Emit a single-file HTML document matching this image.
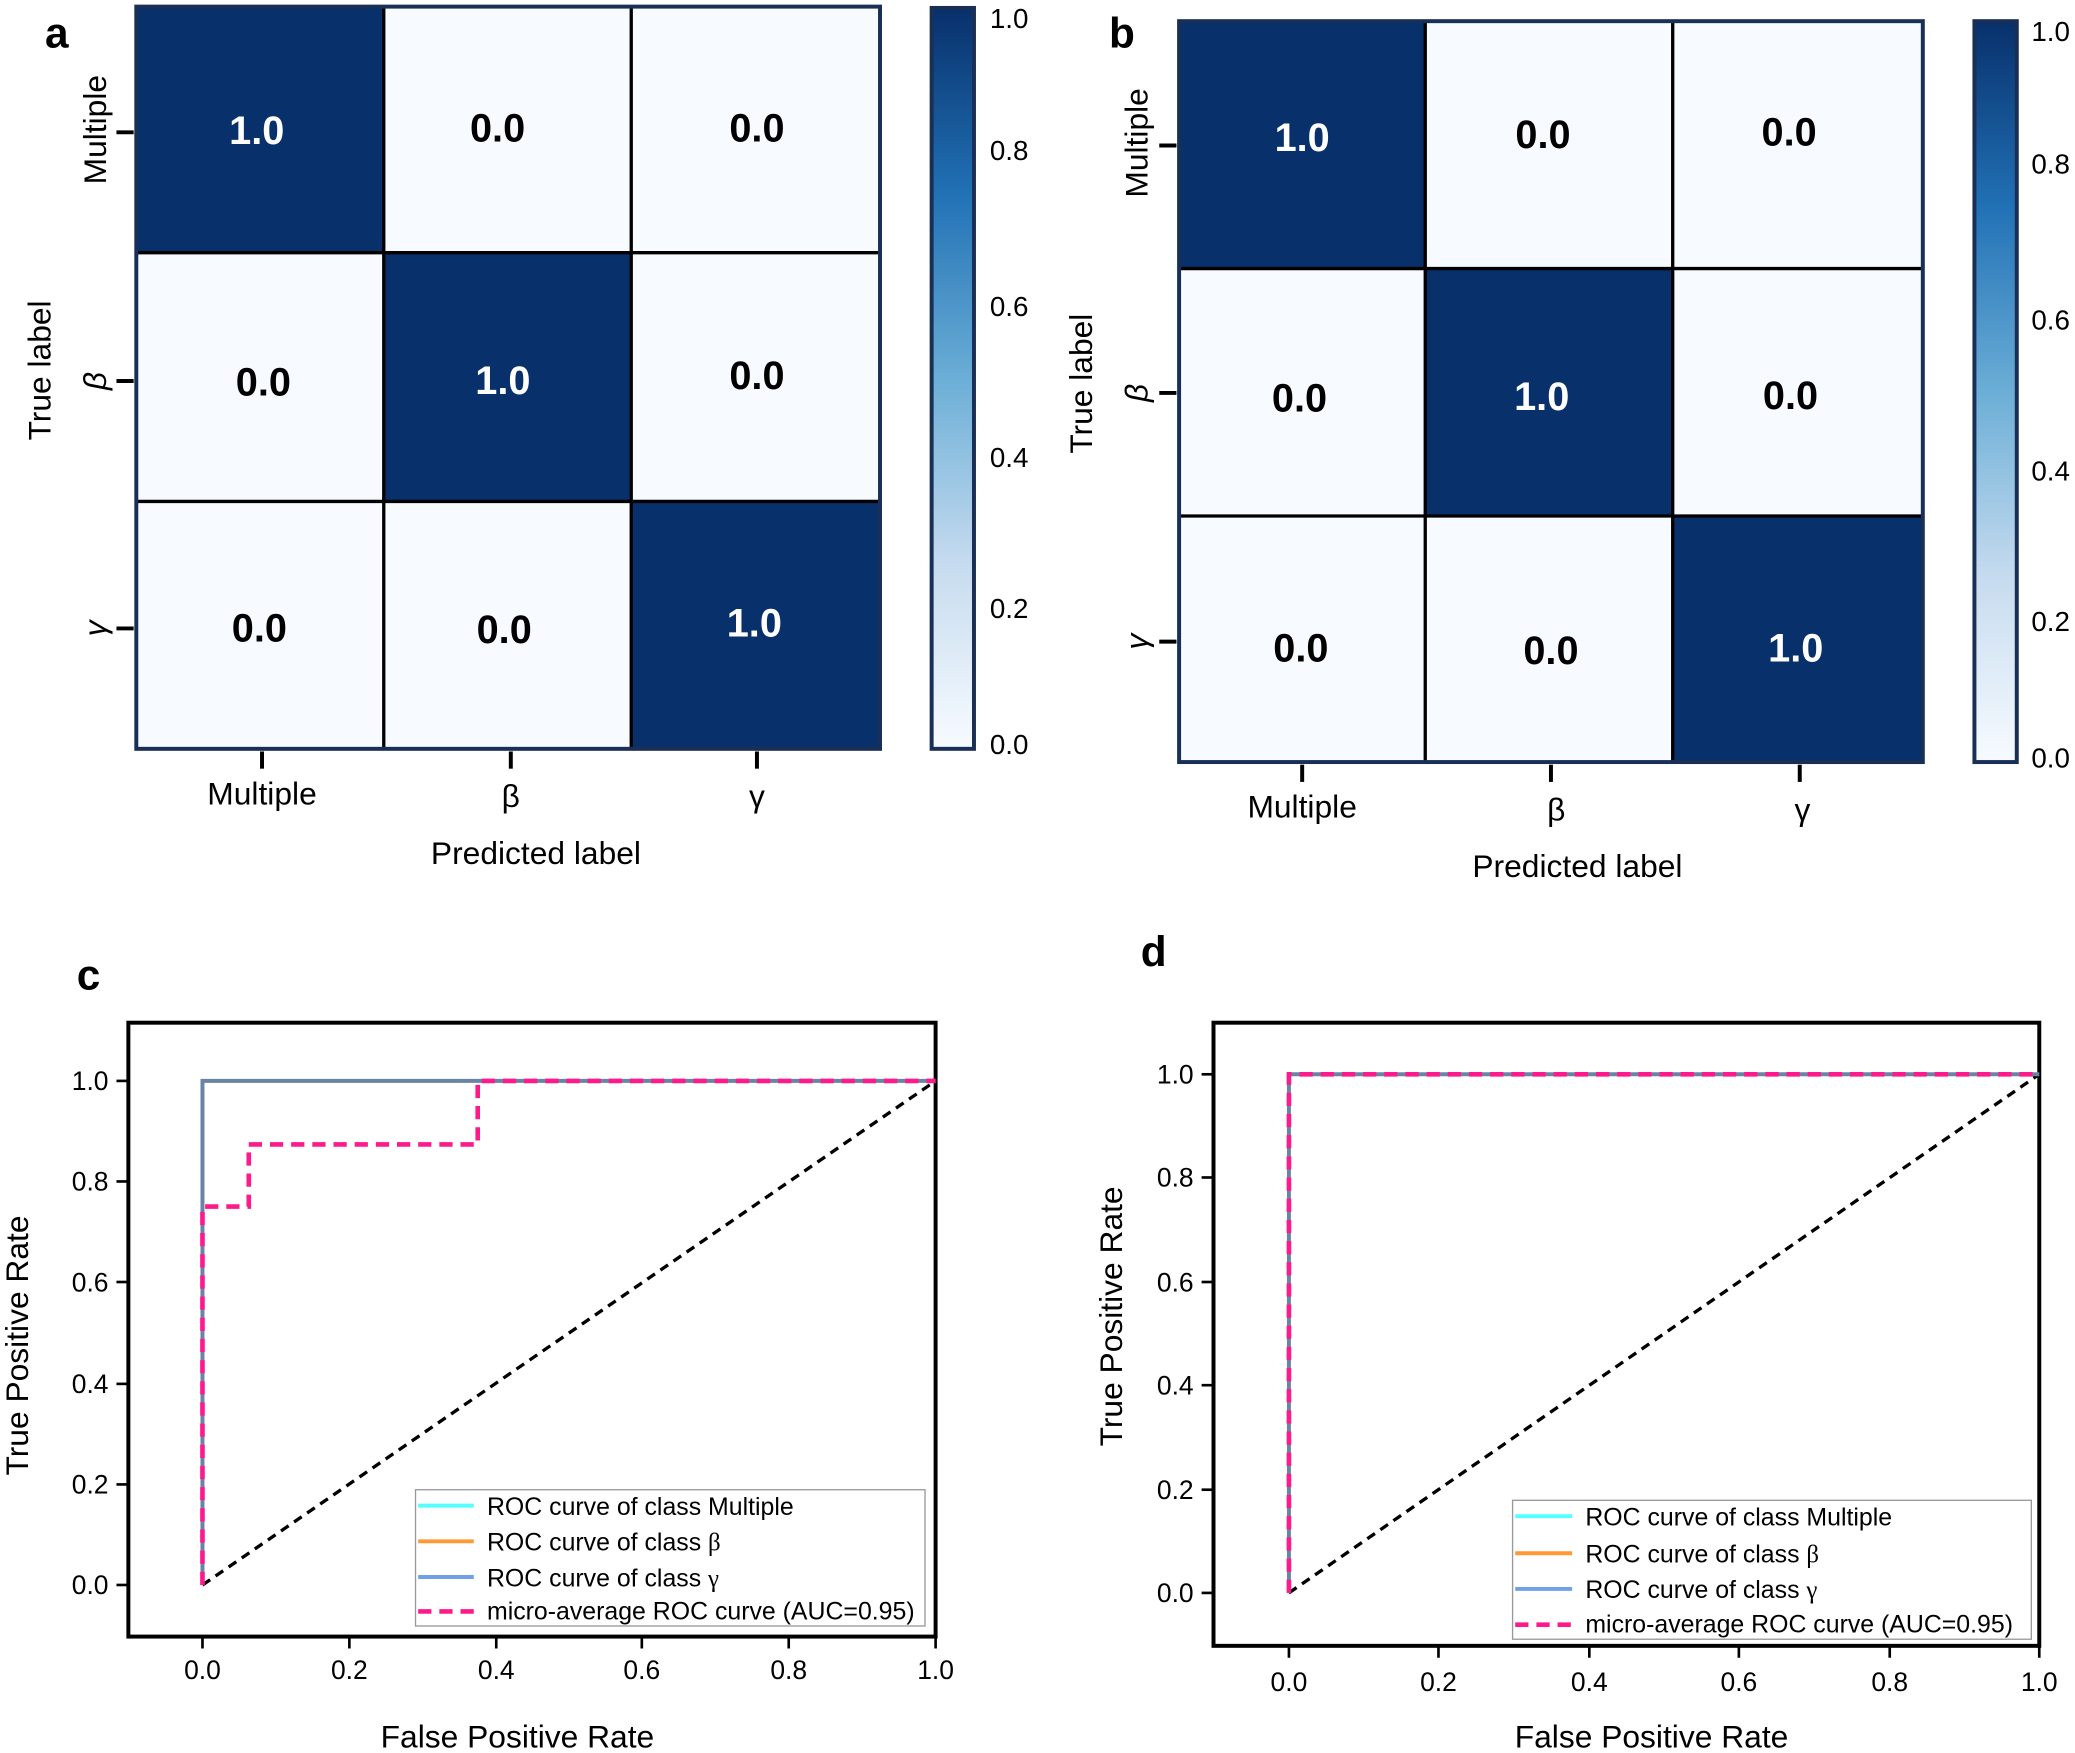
<!DOCTYPE html>
<html><head><meta charset="utf-8"><style>html,body{margin:0;padding:0;background:#fff}svg{display:block}</style></head>
<body>
<svg width="2075" height="1753" viewBox="0 0 1568 1325" preserveAspectRatio="none" xmlns="http://www.w3.org/2000/svg" font-family="Liberation Sans, DejaVu Sans, sans-serif">
<defs>
<linearGradient id="cb" x1="0" y1="1" x2="0" y2="0">
<stop offset="0" stop-color="#f7fbff"/><stop offset="0.25" stop-color="#c6dbef"/><stop offset="0.5" stop-color="#6baed6"/><stop offset="0.75" stop-color="#2171b5"/><stop offset="1" stop-color="#08306b"/>
</linearGradient>
</defs>
<rect width="1568" height="1325" fill="#fff"/>
<g font-weight="bold" font-size="32" fill="#000">
<text x="34" y="36">a</text><text x="838" y="36">b</text><text x="58" y="748">c</text><text x="862" y="730">d</text>
</g>

<g>
<rect x="103" y="5" width="562" height="561" fill="#f7fbff"/>
<rect x="103" y="5" width="187" height="186" fill="#08306b"/>
<rect x="290" y="191" width="187" height="188" fill="#08306b"/>
<rect x="477" y="379" width="188" height="187" fill="#08306b"/>
<g stroke="#000" stroke-width="2.5">
<line x1="290" y1="5" x2="290" y2="566"/><line x1="477" y1="5" x2="477" y2="566"/>
<line x1="103" y1="191" x2="665" y2="191"/><line x1="103" y1="379" x2="665" y2="379"/>
</g>
<rect x="103" y="5" width="562" height="561" fill="none" stroke="#1a2f55" stroke-width="3"/>
<g font-weight="bold" font-size="30" text-anchor="middle">
<text x="194" y="109" fill="#fff">1.0</text><text x="376" y="107">0.0</text><text x="572" y="107">0.0</text>
<text x="199" y="299">0.0</text><text x="380" y="298" fill="#fff">1.0</text><text x="572" y="294">0.0</text>
<text x="196" y="485">0.0</text><text x="381" y="486">0.0</text><text x="570" y="481" fill="#fff">1.0</text>
</g>
<g stroke="#000" stroke-width="3">
<line x1="88" y1="100" x2="101" y2="100"/><line x1="88" y1="288" x2="101" y2="288"/><line x1="88" y1="475" x2="101" y2="475"/>
<line x1="198" y1="568" x2="198" y2="581"/><line x1="386" y1="568" x2="386" y2="581"/><line x1="572" y1="568" x2="572" y2="581"/>
</g>
<g font-size="24" text-anchor="middle">
<text transform="translate(80,98) rotate(-90)">Multiple</text>
<text transform="translate(80,288) rotate(-90)" font-style="italic">β</text>
<text transform="translate(80,475) rotate(-90)" font-style="italic">γ</text>
<text x="198" y="608">Multiple</text><text x="386" y="610">β</text><text x="572" y="610">γ</text>
<text x="405" y="653">Predicted label</text>
<text transform="translate(38,280) rotate(-90)">True label</text>
</g>
<rect x="704" y="6" width="32" height="560" fill="url(#cb)" stroke="#1a2f55" stroke-width="3"/>
<g font-size="21">
<text x="748" y="21">1.0</text><text x="748" y="121">0.8</text><text x="748" y="239">0.6</text>
<text x="748" y="353">0.4</text><text x="748" y="467">0.2</text><text x="748" y="570">0.0</text>
</g>
</g>

<g>
<rect x="891" y="16" width="562" height="560" fill="#f7fbff"/>
<rect x="891" y="16" width="186" height="187" fill="#08306b"/>
<rect x="1077" y="203" width="187" height="187" fill="#08306b"/>
<rect x="1264" y="390" width="189" height="186" fill="#08306b"/>
<g stroke="#000" stroke-width="2.5">
<line x1="1077" y1="16" x2="1077" y2="576"/><line x1="1264" y1="16" x2="1264" y2="576"/>
<line x1="891" y1="203" x2="1453" y2="203"/><line x1="891" y1="390" x2="1453" y2="390"/>
</g>
<rect x="891" y="16" width="562" height="560" fill="none" stroke="#1a2f55" stroke-width="3"/>
<g font-weight="bold" font-size="30" text-anchor="middle">
<text x="984" y="114" fill="#fff">1.0</text><text x="1166" y="112">0.0</text><text x="1352" y="110">0.0</text>
<text x="982" y="311">0.0</text><text x="1165" y="310" fill="#fff">1.0</text><text x="1353" y="309">0.0</text>
<text x="983" y="500">0.0</text><text x="1172" y="502">0.0</text><text x="1357" y="500" fill="#fff">1.0</text>
</g>
<g stroke="#000" stroke-width="3">
<line x1="876" y1="110" x2="889" y2="110"/><line x1="876" y1="297" x2="889" y2="297"/><line x1="876" y1="485" x2="889" y2="485"/>
<line x1="984" y1="578" x2="984" y2="591"/><line x1="1172" y1="578" x2="1172" y2="591"/><line x1="1360" y1="578" x2="1360" y2="591"/>
</g>
<g font-size="24" text-anchor="middle">
<text transform="translate(867,108) rotate(-90)">Multiple</text>
<text transform="translate(867,297) rotate(-90)" font-style="italic">β</text>
<text transform="translate(867,485) rotate(-90)" font-style="italic">γ</text>
<text x="984" y="618">Multiple</text><text x="1176" y="620">β</text><text x="1362" y="620">γ</text>
<text x="1192" y="663">Predicted label</text>
<text transform="translate(825,290) rotate(-90)">True label</text>
</g>
<rect x="1492" y="16" width="32" height="560" fill="url(#cb)" stroke="#1a2f55" stroke-width="3"/>
<g font-size="21">
<text x="1535" y="31">1.0</text><text x="1535" y="131">0.8</text><text x="1535" y="249">0.6</text>
<text x="1535" y="363">0.4</text><text x="1535" y="477">0.2</text><text x="1535" y="580">0.0</text>
</g>
</g>

<g>
<rect x="97" y="773" width="610" height="464" fill="none" stroke="#000" stroke-width="3"/>
<g stroke="#000" stroke-width="2">
<line x1="153" y1="1237" x2="153" y2="1246"/><line x1="264" y1="1237" x2="264" y2="1246"/><line x1="375" y1="1237" x2="375" y2="1246"/>
<line x1="485" y1="1237" x2="485" y2="1246"/><line x1="596" y1="1237" x2="596" y2="1246"/><line x1="707" y1="1237" x2="707" y2="1246"/>
<line x1="88" y1="1198" x2="97" y2="1198"/><line x1="88" y1="1122" x2="97" y2="1122"/><line x1="88" y1="1046" x2="97" y2="1046"/>
<line x1="88" y1="969" x2="97" y2="969"/><line x1="88" y1="893" x2="97" y2="893"/><line x1="88" y1="817" x2="97" y2="817"/>
</g>
<g font-size="20" text-anchor="middle">
<text x="153" y="1269">0.0</text><text x="264" y="1269">0.2</text><text x="375" y="1269">0.4</text>
<text x="485" y="1269">0.6</text><text x="596" y="1269">0.8</text><text x="707" y="1269">1.0</text>
</g>
<g font-size="20" text-anchor="end">
<text x="82" y="1205">0.0</text><text x="82" y="1129">0.2</text><text x="82" y="1053">0.4</text>
<text x="82" y="976">0.6</text><text x="82" y="900">0.8</text><text x="82" y="824">1.0</text>
</g>
<text x="391" y="1321" font-size="24" text-anchor="middle">False Positive Rate</text>
<text transform="translate(21,1017) rotate(-90)" font-size="24" text-anchor="middle">True Positive Rate</text>
<line x1="153" y1="1198" x2="707" y2="817" stroke="#000" stroke-width="2.5" stroke-dasharray="7,5"/>
<polyline points="153,1198 153,817 707,817" fill="none" stroke="#6a84a8" stroke-width="3"/>
<polyline points="153,1198 153,912 188,912 188,865 361,865 361,817 707,817" fill="none" stroke="#ff1a8c" stroke-width="3.5" stroke-dasharray="10,6"/>
<rect x="314" y="1126" width="385" height="103" fill="#fff" fill-opacity="0.85" stroke="#999" stroke-width="1"/>
<line x1="316" y1="1138" x2="358" y2="1138" stroke="#5ff" stroke-width="3"/>
<line x1="316" y1="1165" x2="358" y2="1165" stroke="#ff9933" stroke-width="3"/>
<line x1="316" y1="1192" x2="358" y2="1192" stroke="#6fa0e8" stroke-width="3"/>
<line x1="316" y1="1218" x2="358" y2="1218" stroke="#ff1a8c" stroke-width="3.5" stroke-dasharray="10,6"/>
<g font-size="18.8">
<text x="368" y="1145">ROC curve of class Multiple</text>
<text x="368" y="1172">ROC curve of class <tspan font-family="Liberation Serif, serif">β</tspan></text>
<text x="368" y="1199">ROC curve of class <tspan font-family="Liberation Serif, serif">γ</tspan></text>
<text x="368" y="1224">micro-average ROC curve (AUC=0.95)</text>
</g>
</g>

<g>
<rect x="917" y="773" width="624" height="471" fill="none" stroke="#000" stroke-width="3"/>
<g stroke="#000" stroke-width="2">
<line x1="974" y1="1244" x2="974" y2="1253"/><line x1="1087" y1="1244" x2="1087" y2="1253"/><line x1="1201" y1="1244" x2="1201" y2="1253"/>
<line x1="1314" y1="1244" x2="1314" y2="1253"/><line x1="1428" y1="1244" x2="1428" y2="1253"/><line x1="1541" y1="1244" x2="1541" y2="1253"/>
<line x1="908" y1="1204" x2="917" y2="1204"/><line x1="908" y1="1126" x2="917" y2="1126"/><line x1="908" y1="1047" x2="917" y2="1047"/>
<line x1="908" y1="969" x2="917" y2="969"/><line x1="908" y1="890" x2="917" y2="890"/><line x1="908" y1="812" x2="917" y2="812"/>
</g>
<g font-size="20" text-anchor="middle">
<text x="974" y="1278">0.0</text><text x="1087" y="1278">0.2</text><text x="1201" y="1278">0.4</text>
<text x="1314" y="1278">0.6</text><text x="1428" y="1278">0.8</text><text x="1541" y="1278">1.0</text>
</g>
<g font-size="20" text-anchor="end">
<text x="902" y="1211">0.0</text><text x="902" y="1133">0.2</text><text x="902" y="1054">0.4</text>
<text x="902" y="976">0.6</text><text x="902" y="897">0.8</text><text x="902" y="819">1.0</text>
</g>
<text x="1248" y="1321" font-size="24" text-anchor="middle">False Positive Rate</text>
<text transform="translate(848,995) rotate(-90)" font-size="24" text-anchor="middle">True Positive Rate</text>
<line x1="974" y1="1204" x2="1541" y2="812" stroke="#000" stroke-width="2.5" stroke-dasharray="7,5"/>
<polyline points="974,1204 974,812 1541,812" fill="none" stroke="#6a84a8" stroke-width="3"/>
<polyline points="974,1204 974,812 1541,812" fill="none" stroke="#ff1a8c" stroke-width="3.5" stroke-dasharray="10,6"/>
<rect x="1143" y="1134" width="392" height="105" fill="#fff" fill-opacity="0.85" stroke="#999" stroke-width="1"/>
<line x1="1145" y1="1146" x2="1188" y2="1146" stroke="#5ff" stroke-width="3"/>
<line x1="1145" y1="1174" x2="1188" y2="1174" stroke="#ff9933" stroke-width="3"/>
<line x1="1145" y1="1201" x2="1188" y2="1201" stroke="#6fa0e8" stroke-width="3"/>
<line x1="1145" y1="1228" x2="1188" y2="1228" stroke="#ff1a8c" stroke-width="3.5" stroke-dasharray="10,6"/>
<g font-size="18.8">
<text x="1198" y="1153">ROC curve of class Multiple</text>
<text x="1198" y="1181">ROC curve of class <tspan font-family="Liberation Serif, serif">β</tspan></text>
<text x="1198" y="1208">ROC curve of class <tspan font-family="Liberation Serif, serif">γ</tspan></text>
<text x="1198" y="1234">micro-average ROC curve (AUC=0.95)</text>
</g>
</g>
</svg>
</body></html>
